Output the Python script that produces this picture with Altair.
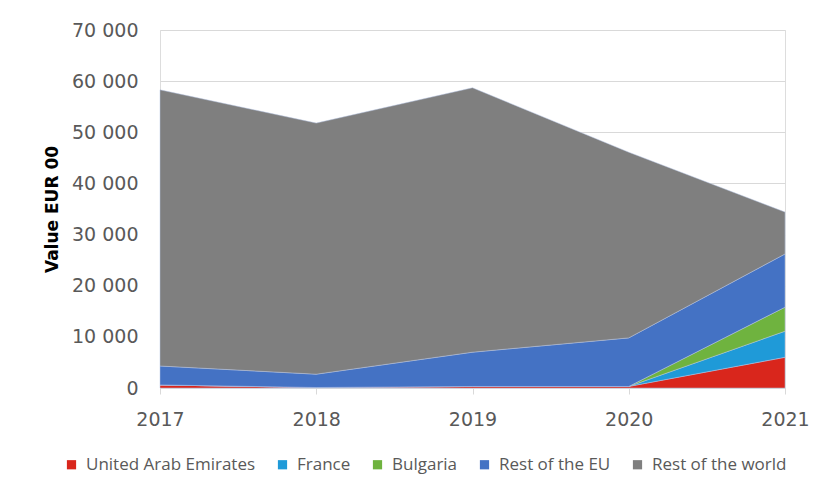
import altair as alt
import pandas as pd

years = [2017, 2018, 2019, 2020, 2021]
series = ["United Arab Emirates", "France", "Bulgaria", "Rest of the EU", "Rest of the world"]
colors = ["#d9261c", "#1f9ad8", "#6fb33f", "#4472c4", "#7f7f7f"]
uae = [600, 100, 300, 300, 6000]
france = [0, 0, 0, 0, 5100]
bulgaria = [0, 0, 0, 0, 4700]
rest_eu = [3700, 2600, 6700, 9500, 10400]
rest_world = [54000, 49100, 51700, 36300, 8200]
y_ticks = [0, 10000, 20000, 30000, 40000, 50000, 60000, 70000]

vals = [uae, france, bulgaria, rest_eu, rest_world]
rows = []
for i, (s, v) in enumerate(zip(series, vals)):
    for y, val in zip(years, v):
        rows.append({"year": y, "series": s, "value": val, "ord": i})
df = pd.DataFrame(rows)

chart = alt.Chart(df).mark_area(stroke="#b8c7e6", strokeWidth=0.8, strokeOpacity=0.6).encode(
    x=alt.X("year:Q", scale=alt.Scale(domain=[2017, 2021], nice=False),
            axis=alt.Axis(values=years, format="d", title=None, grid=False,
                          labelFontSize=19, labelColor="#595959", labelFont="DejaVu Sans",
                          labelPadding=16, domainColor="#d9d9d9", tickColor="#d9d9d9",
                          tickSize=6, labelFlush=False)),
    y=alt.Y("value:Q", stack="zero", scale=alt.Scale(domain=[0, 70000], nice=False),
            axis=alt.Axis(values=y_ticks, title="Value EUR 00", domain=False, ticks=False,
                          labelFontSize=19, labelColor="#595959", labelFont="DejaVu Sans",
                          labelPadding=22, gridColor="#d9d9d9", labelExpr="replace(format(datum.value, ',d'), ',', ' ')",
                          titleFont="DejaVu Sans", titleFontSize=17, titleFontWeight="bold",
                          titleColor="#000000", titlePadding=10)),
    color=alt.Color("series:N", scale=alt.Scale(domain=series, range=colors),
                    legend=alt.Legend(orient="none", legendX=-97, legendY=426, direction="horizontal",
                                      title=None, symbolType="square", symbolSize=85,
                                      symbolStrokeWidth=0, labelFont="Open Sans", labelFontSize=17,
                                      labelColor="#595959", columnPadding=18, labelOffset=6,
                                      labelLimit=300)),
    order=alt.Order("ord:Q", sort="ascending"),
).properties(
    width=625, height=358,
    autosize=alt.AutoSizeParams(type="none"),
    padding={"left": 152, "top": 22, "right": 35, "bottom": 102},
).configure_view(stroke=None).configure(background="white")

chart.save("out.html", embed_options={"renderer": "svg", "actions": False})
